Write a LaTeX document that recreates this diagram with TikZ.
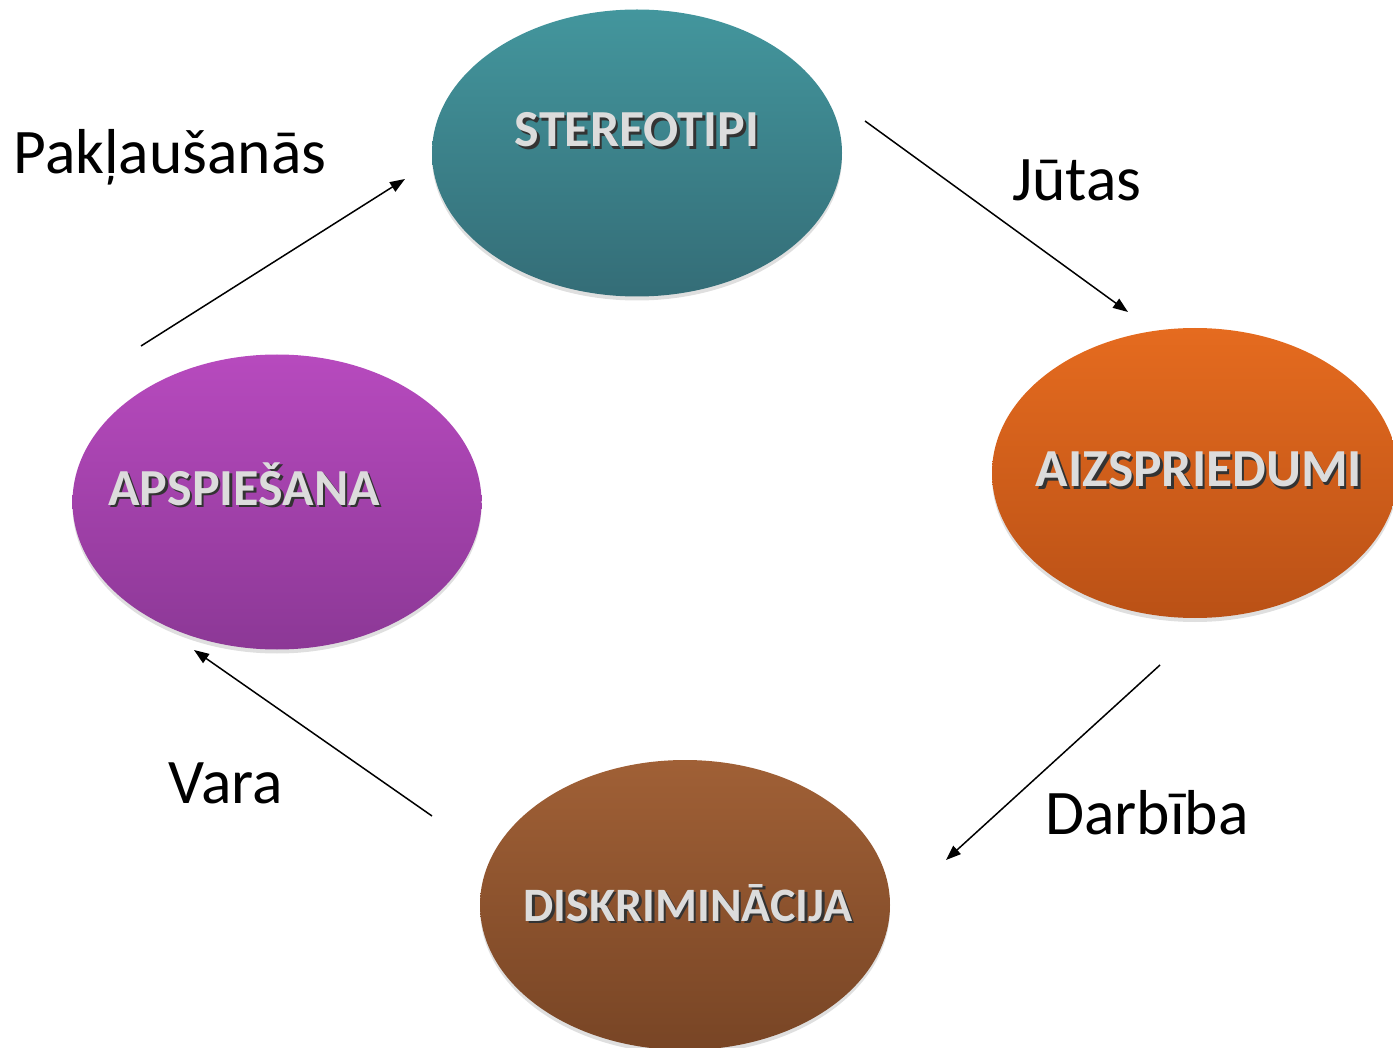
\documentclass[tikz,border=0pt]{standalone}
\usepackage{fontspec}
\setmainfont{Carlito}
\usetikzlibrary{shapes.geometric,arrows.meta,shadows}

\definecolor{tealtop}{HTML}{43969D}
\definecolor{tealbot}{HTML}{346D77}
\definecolor{orangetop}{HTML}{E56B1F}
\definecolor{orangebot}{HTML}{BA5116}
\definecolor{purpletop}{HTML}{B74ABE}
\definecolor{purplebot}{HTML}{8C3896}
\definecolor{browntop}{HTML}{A06036}
\definecolor{brownbot}{HTML}{784525}
\definecolor{labelgray}{HTML}{DCDCDC}

\newcommand{\shadowtext}[1]{\makebox[0pt][l]{\hspace{2.5pt}\raisebox{-2.5pt}{\color{black!80}#1}}#1}

\begin{document}
\begin{tikzpicture}[x=1pt,y=-1pt]
% Estilos
\tikzset{
  oval/.style={ellipse, draw=none, minimum width=410pt, minimum height=290pt, shading=axis, shading angle=0,
    drop shadow={opacity=0.25, shadow xshift=0pt, shadow yshift=-4pt}},
  ovaltext/.style={anchor=base, inner sep=0pt, text=labelgray, font=\fontsize{52}{60}\selectfont\bfseries},
  steplabel/.style={anchor=base, inner sep=0pt, font=\fontsize{63.5}{70}\selectfont},
  flow/.style={line width=1.5pt, -{Triangle[length=15pt,width=11pt]}}
}
\useasboundingbox (0,0) rectangle (1393,1048);

% Elipses
\node[oval, minimum height=287pt, top color=tealtop, bottom color=tealbot] (stereotipi_node) at (637,153) {};
\node[oval, minimum width=406pt, top color=orangetop, bottom color=orangebot] (aizspriedumi_node) at (1195,473) {};
\node[oval, minimum width=409pt, minimum height=295pt, top color=purpletop, bottom color=purplebot] (apspiesana_node) at (277,502) {};
\node[oval, top color=browntop, bottom color=brownbot] (diskriminacija_node) at (685,905) {};

% Textos das elipses
\node[ovaltext] (stereotipi_text) at (637,147) {\shadowtext{STEREOTIPI}};
\node[ovaltext, font=\fontsize{53.5}{60}\selectfont\bfseries] (aizspriedumi_text) at (1199,487) {\shadowtext{AIZSPRIEDUMI}};
\node[ovaltext] (apspiesana_text) at (244,505) {\shadowtext{APSPIEŠANA}};
\node[ovaltext, font=\fontsize{48}{56}\selectfont\bfseries] (diskriminacija_text) at (688,921) {\shadowtext{DISKRIMINĀCIJA}};

% Pontos das setas
\coordinate (jutas_start) at (865,121);
\coordinate (jutas_end) at (1128,312);
\coordinate (darbiba_start) at (1160,665);
\coordinate (darbiba_end) at (946,860);
\coordinate (vara_start) at (432,816);
\coordinate (vara_end) at (194,650);
\coordinate (paklausanas_start) at (141,346);
\coordinate (paklausanas_end) at (405,179);

% Setas
\draw[flow] (jutas_start) -- (jutas_end);
\draw[flow] (darbiba_start) -- (darbiba_end);
\draw[flow] (vara_start) -- (vara_end);
\draw[flow] (paklausanas_start) -- (paklausanas_end);

% Rótulos
\node[steplabel] (jutas_label) at (1077,201) {Jūtas};
\node[steplabel] (darbiba_label) at (1147,834) {Darbība};
\node[steplabel] (vara_label) at (226,803) {Vara};
\node[steplabel] (paklausanas_label) at (170,174) {Pakļaušanās};

\end{tikzpicture}
\end{document}
